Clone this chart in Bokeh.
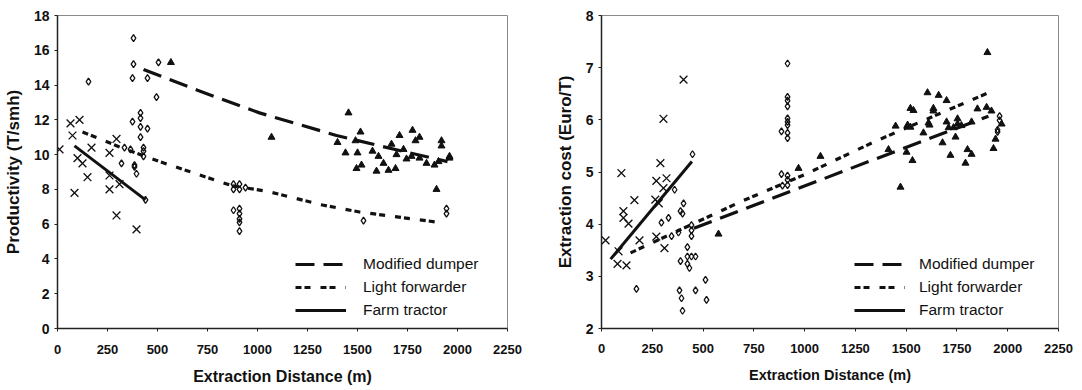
from bokeh.plotting import figure
from bokeh.layouts import row
from bokeh.models import Legend, LegendItem, FixedTicker, Range1d
from bokeh.embed import file_html
from bokeh.resources import INLINE

FONT = "Liberation Sans"

# ---------------- data: productivity (left panel) ----------------
x_ticks = [0, 250, 500, 750, 1000, 1250, 1500, 1750, 2000, 2250]
prod_ticks = [0, 2, 4, 6, 8, 10, 12, 14, 16, 18]
cost_ticks = [2, 3, 4, 5, 6, 7, 8]

series_names = ["Modified dumper", "Light forwarder", "Farm tractor"]

md_prod_d = [567, 1070, 1455, 1515, 1400, 1490, 1710, 1775, 1810, 1790, 1670, 1920, 1920,
             1440, 1500, 1575, 1605, 1695, 1730, 1745, 1770, 1810, 1520, 1495, 1630, 1595,
             1655, 1690, 1845, 1885, 1905, 1960, 1960, 1895]
md_prod_v = [15.3, 11.0, 12.4, 11.3, 10.7, 10.8, 11.1, 11.4, 11.0, 10.8, 10.6, 10.8, 10.5,
             10.1, 10.1, 10.2, 9.9, 10.0, 10.3, 9.75, 9.9, 9.8, 9.4, 9.2, 9.5, 9.05,
             9.1, 9.2, 9.5, 9.4, 9.6, 9.9, 9.8, 8.0]

lf_prod_d = [380, 380, 505, 155, 375, 450, 495, 415, 415, 375, 415, 450, 415, 365, 335, 430,
             430, 430, 385, 385, 395, 320, 440, 880, 880, 910, 910, 940, 880, 910, 910, 910,
             910, 910, 1530, 1945, 1945]
lf_prod_v = [16.7, 15.2, 15.3, 14.2, 14.4, 14.4, 13.3, 12.4, 12.1, 11.9, 11.6, 11.5, 11.0, 10.3,
             10.4, 10.4, 10.2, 9.9, 9.4, 9.3, 8.9, 9.5, 7.4, 8.3, 8.0, 8.3, 8.0, 8.1, 6.8, 6.9,
             6.6, 6.3, 6.1, 5.6, 6.2, 6.9, 6.6]

ft_prod_d = [10, 65, 110, 75, 295, 170, 260, 100, 125, 150, 85, 260, 310, 260, 295, 395]
ft_prod_v = [10.3, 11.8, 12.0, 11.1, 10.9, 10.4, 10.1, 9.8, 9.5, 8.7, 7.8, 8.8, 8.3, 8.0, 6.5, 5.7]

# trend lines
md_prod_fit_d = [430, 700, 1010, 1395, 1760, 1950]
md_prod_fit_v = [14.9, 13.7, 12.4, 11.1, 10.1, 9.6]
lf_prod_fit_d = [125, 320, 510, 875, 1045, 1325, 1510, 1910]
lf_prod_fit_v = [11.3, 10.4, 9.6, 8.2, 7.9, 7.1, 6.7, 6.1]
ft_prod_fit_d = [85, 440]
ft_prod_fit_v = [10.5, 7.4]

# ---------------- data: extraction cost (right panel) ----------------
md_cost_d = [576, 970, 1078, 1472, 1900, 1605, 1660, 1699, 1521, 1536, 1634, 1634, 1851, 1896,
             1920, 1970, 1507, 1448, 1521, 1610, 1615, 1699, 1753, 1753, 1772, 1822, 1709, 1733,
             1585, 1743, 1413, 1502, 1679, 1802, 1822, 1531, 1718, 1792, 1940, 1930]
md_cost_v = [3.81, 5.07, 5.3, 4.71, 7.29, 6.52, 6.47, 6.37, 6.22, 6.18, 6.22, 6.17, 6.21, 6.24,
             6.17, 5.92, 5.9, 5.88, 5.86, 5.94, 5.9, 5.96, 6.02, 5.92, 5.89, 5.96, 5.85, 5.85,
             5.75, 5.67, 5.43, 5.38, 5.56, 5.43, 5.34, 5.22, 5.32, 5.17, 5.63, 5.45]

lf_cost_d = [448, 360, 404, 389, 399, 330, 295, 443, 443, 443, 379, 345, 423, 423, 443, 463, 389,
             423, 433, 172, 384, 394, 463, 512, 517, 399, 916, 916, 916, 916, 916, 916, 916, 916,
             916, 886, 886, 916, 916, 916, 891, 1960, 1960, 1950, 1950]
lf_cost_v = [5.34, 4.66, 4.40, 4.25, 4.20, 4.12, 4.03, 3.98, 3.88, 3.77, 3.84, 3.77, 3.56, 3.38,
             3.38, 3.38, 3.29, 3.24, 3.16, 2.76, 2.73, 2.58, 2.73, 2.93, 2.55, 2.34, 7.08, 6.44,
             6.37, 6.26, 6.03, 5.96, 5.90, 5.75, 5.65, 5.78, 4.96, 4.93, 4.85, 4.75, 4.74, 6.07,
             5.99, 5.81, 5.77]

ft_cost_d = [98, 404, 305, 290, 270, 320, 305, 162, 265, 282, 108, 108, 133, 20, 187, 270, 310,
             84, 79, 123]
ft_cost_v = [4.98, 6.77, 6.02, 5.17, 4.83, 4.88, 4.69, 4.46, 4.47, 4.40, 4.25, 4.12, 4.01, 3.69,
             3.69, 3.76, 3.54, 3.48, 3.24, 3.21]

md_cost_fit_d = [455, 1349, 1905]
md_cost_fit_v = [3.92, 5.25, 6.07]
lf_cost_fit_d = [143, 685, 1000, 1349, 1905]
lf_cost_fit_v = [3.45, 4.43, 4.95, 5.59, 6.52]
ft_cost_fit_d = [45, 445]
ft_cost_fit_v = [3.33, 5.2]

DASH_MD = "19 9"
DASH_LF = "6 3 6 10"


def make_panel(width, height, borders, y_range, y_ticks, y_label, x_label_size,
               x_standoffs, md, lf, ft, md_fit, lf_fit, ft_fit, legend_loc, label_standoff):
    bl, br, bt, bb = borders
    p = figure(width=width, height=height, output_backend="svg", toolbar_location=None,
               x_range=Range1d(0, 2250), y_range=Range1d(*y_range),
               min_border_left=bl, min_border_right=br, min_border_top=bt,
               min_border_bottom=bb)
    p.grid.visible = False
    p.outline_line_color = "#8a8a8a"
    p.outline_line_width = 1
    p.background_fill_color = "white"
    p.border_fill_color = "white"

    p.xaxis.ticker = FixedTicker(ticks=x_ticks)
    p.yaxis.ticker = FixedTicker(ticks=y_ticks)
    for ax in (p.xaxis[0], p.yaxis[0]):
        ax.axis_line_color = "#222222"
        ax.axis_line_width = 1.5
        ax.major_tick_line_color = "#222222"
        ax.major_tick_in = 0
        ax.major_tick_out = 3
        ax.minor_tick_line_color = None
        ax.major_label_text_font = FONT
        ax.major_label_text_font_style = "bold"
        ax.major_label_text_color = "#111111"
        ax.axis_label_text_font = FONT
        ax.axis_label_text_font_style = "bold"
        ax.axis_label_text_color = "#111111"
    p.xaxis.major_label_text_font_size = "13px"
    p.yaxis.major_label_text_font_size = "14px"
    p.xaxis.major_label_standoff = x_standoffs[0]
    p.yaxis.major_label_standoff = 5
    p.xaxis.axis_label = "Extraction Distance (m)"
    p.xaxis.axis_label_text_font_size = x_label_size
    p.xaxis.axis_label_standoff = x_standoffs[1]
    p.yaxis.axis_label = y_label
    p.yaxis.axis_label_text_font_size = "17px"
    p.yaxis.axis_label_standoff = 8

    r_md = p.line(md_fit[0], md_fit[1], line_color="#111111", line_width=3.2,
                  line_dash=DASH_MD)
    r_lf = p.line(lf_fit[0], lf_fit[1], line_color="#111111", line_width=3.2,
                  line_dash=DASH_LF)
    r_ft = p.line(ft_fit[0], ft_fit[1], line_color="#111111", line_width=3)

    p.scatter(md[0], md[1], marker="triangle", size=7, fill_color="#111111",
              line_color="#111111")
    p.scatter(lf[0], lf[1], marker="diamond", size=7, fill_color=None,
              line_color="#111111", line_width=1.3)
    p.scatter(ft[0], ft[1], marker="x", size=11, line_color="#111111", line_width=1.3)

    legend = Legend(items=[LegendItem(label=series_names[0], renderers=[r_md]),
                           LegendItem(label=series_names[1], renderers=[r_lf]),
                           LegendItem(label=series_names[2], renderers=[r_ft])],
                    location=legend_loc, orientation="vertical")
    legend.background_fill_alpha = 0
    legend.border_line_color = None
    legend.padding = 0
    legend.margin = 0
    legend.spacing = 3
    legend.glyph_width = 51
    legend.glyph_height = 20
    legend.label_height = 20
    legend.label_standoff = label_standoff
    legend.label_text_font = FONT
    legend.label_text_font_size = "15.5px"
    legend.label_text_color = "#111111"
    p.add_layout(legend, "center")
    return p


p1 = make_panel(540, 390, (56, 33, 15, 62), (0, 18), prod_ticks, "Productivity (T/smh)", "16px",
                (13, 11),
                (md_prod_d, md_prod_v), (lf_prod_d, lf_prod_v), (ft_prod_d, ft_prod_v),
                (md_prod_fit_d, md_prod_fit_v), (lf_prod_fit_d, lf_prod_fit_v),
                (ft_prod_fit_d, ft_prod_fit_v), (238, 8), 17)
p2 = make_panel(540, 390, (61, 22, 15, 62), (2, 8), cost_ticks, "Extraction cost (Euro/T)",
                "14.5px", (12, 11),
                (md_cost_d, md_cost_v), (lf_cost_d, lf_cost_v), (ft_cost_d, ft_cost_v),
                (md_cost_fit_d, md_cost_fit_v), (lf_cost_fit_d, lf_cost_fit_v),
                (ft_cost_fit_d, ft_cost_fit_v), (253, 8), 14)

layout = row(p1, p2)
open("out.html", "w").write(file_html(layout, INLINE))
